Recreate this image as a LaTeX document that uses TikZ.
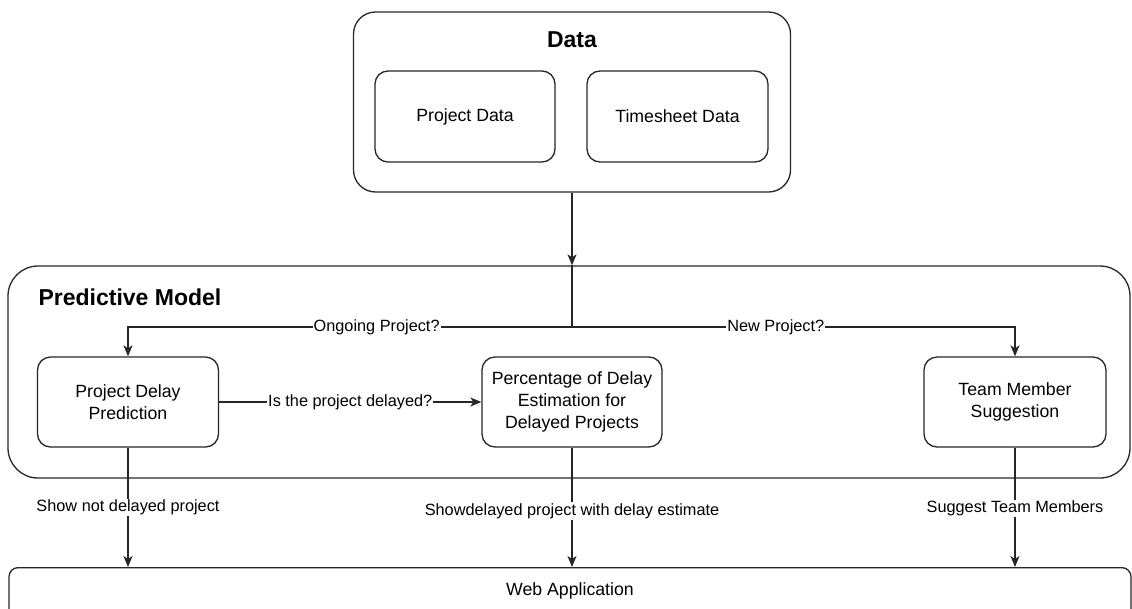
\documentclass[tikz,border=0pt]{standalone}
\usepackage{fontspec}
\setmainfont{Liberation Sans}
\usepackage{tikz}
\usetikzlibrary{arrows.meta}
\usetikzlibrary{calc}

\tikzset{
  box/.style={draw=black!85, line width=1.3pt, rounded corners=13pt, inner sep=0pt, align=center, font=\fontsize{17.7}{21.7}\selectfont},
  group/.style={draw=black!85, line width=1.3pt, inner sep=0pt},
  title/.style={font=\fontsize{23}{27}\selectfont\bfseries},
  plain/.style={font=\fontsize{17.7}{21.7}\selectfont},
  lbl/.style={fill=white, inner sep=1pt, font=\fontsize{16.3}{19}\selectfont},
  arr/.style={-{Stealth[length=11pt,width=9pt,inset=3pt]}, line width=1.3pt, draw=black!85},
  wire/.style={line width=1.3pt, draw=black!85}
}

\begin{document}
\begin{tikzpicture}[x=1pt,y=-1pt]
        \useasboundingbox (0,0) rectangle (1132,608);
        \node[group, rounded corners=22pt, minimum width=437pt, minimum height=180pt] (data) at (572,102) {};
        \node[title] (datatitle) at (572,40) {Data};
        \node[box, minimum width=180pt, minimum height=91pt] (pdata) at (465,116.5) {Project Data};
        \node[box, minimum width=181pt, minimum height=91pt] (tdata) at (677.5,116.5) {Timesheet Data};
        \node[group, rounded corners=30pt, minimum width=1122pt, minimum height=212pt] (model) at (569,372) {};
        \node[title, anchor=west] (modeltitle) at (35,297) {Predictive Model};
        \node[box, minimum width=181pt, minimum height=90pt] (pdp) at (128,402) {Project Delay\\Prediction};
        \node[box, minimum width=180pt, minimum height=90pt] (perc) at (572,402) {Percentage of Delay\\Estimation for\\Delayed Projects};
        \node[box, minimum width=182pt, minimum height=90pt] (team) at (1015,402) {Team Member\\Suggestion};
        \node[group, rounded corners=9pt, minimum width=1122pt, minimum height=90pt, anchor=north] (web) at (570,567) {};
        \node[plain] (webtext) at ($(web.north)+(0,24)$) {Web Application};
        \coordinate (split) at (572,327);
        \draw[arr] (data.south) -- (data.south |- model.north);
        \draw[wire] (data.south |- model.north) -- (split);
        \draw[arr] (split) -| node[lbl, pos=0.22] (ongoing) {Ongoing Project?} (pdp.north);
        \draw[arr] (split) -| node[lbl, pos=0.23] (newproj) {New Project?} (team.north);
        \draw[arr] (pdp) -- node[lbl] (delayed) {Is the project delayed?} (perc);
        \draw[arr] (pdp.south) -- node[lbl] (notdelayed) {Show not delayed project} (pdp.south |- web.north);
        \draw[arr] (perc.south) -- node[lbl, pos=0.53] (showdelayed) {Showdelayed project with delay estimate} (perc.south |- web.north);
        \draw[arr] (team.south) -- node[lbl, pos=0.51] (suggest) {Suggest Team Members} (team.south |- web.north);
\end{tikzpicture}
\end{document}
